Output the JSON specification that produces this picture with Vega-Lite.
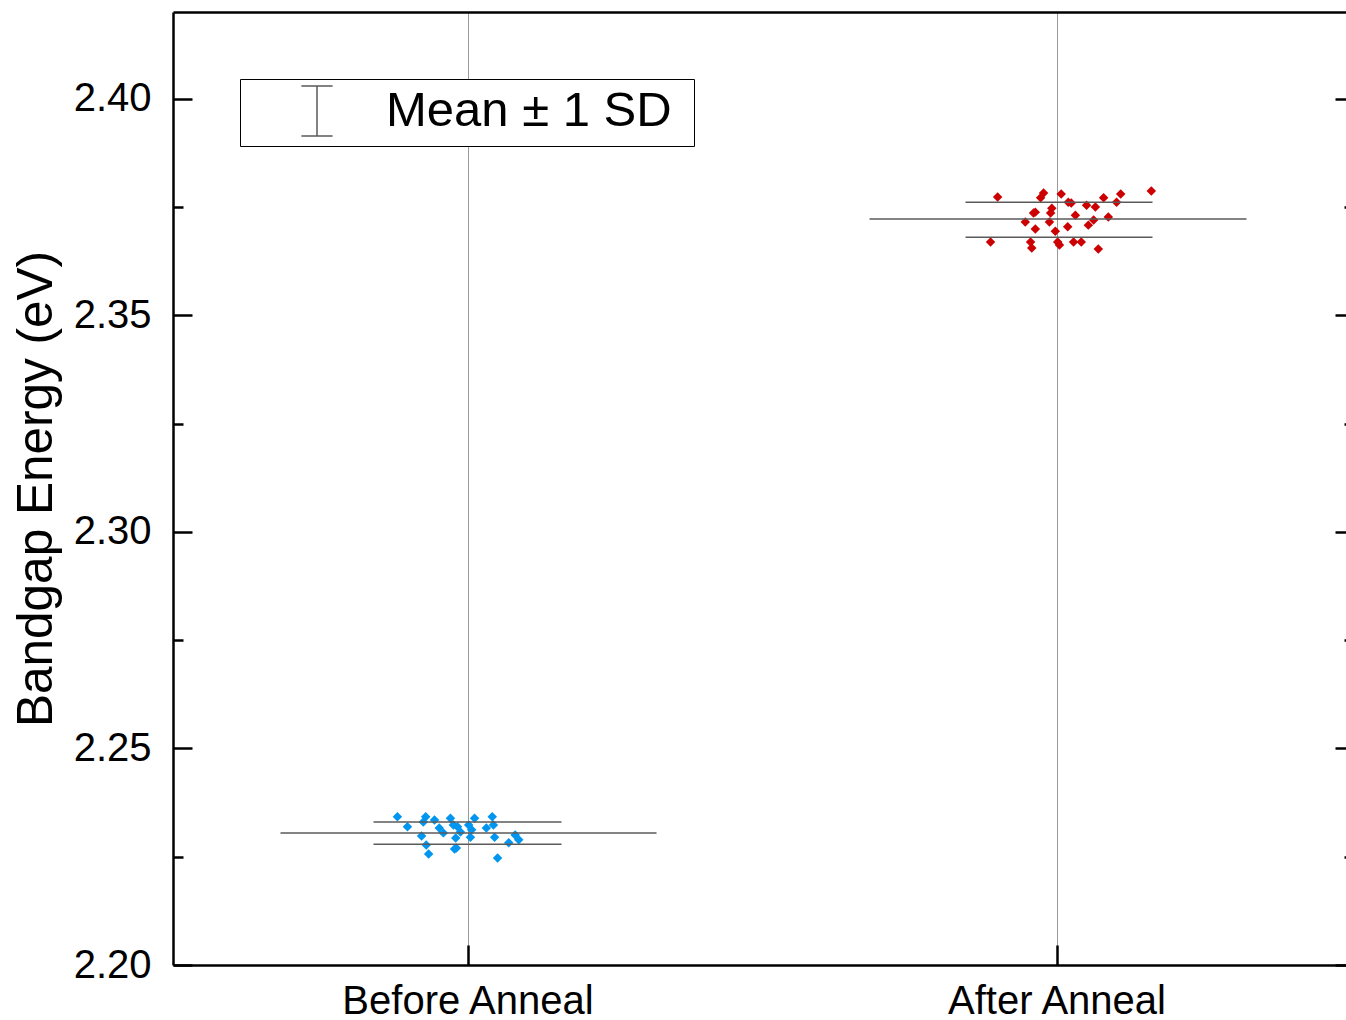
{
  "$schema": "https://vega.github.io/schema/vega-lite/v6.json",
  "autosize": {"type": "none"},
  "padding": {"left": 173, "top": 12, "right": 0, "bottom": 55},
  "width": 1173,
  "height": 953,
  "background": "white",
  "config": {"font": "Liberation Sans", "view": {"stroke": null}},
  "datasets": {
    "points": [
      {"group": "Before Anneal", "pos": 0.881, "energy": 2.2342},
      {"group": "Before Anneal", "pos": 0.898, "energy": 2.2319},
      {"group": "Before Anneal", "pos": 0.922, "energy": 2.2298},
      {"group": "Before Anneal", "pos": 0.925, "energy": 2.2330},
      {"group": "Before Anneal", "pos": 0.929, "energy": 2.2342},
      {"group": "Before Anneal", "pos": 0.930, "energy": 2.2277},
      {"group": "Before Anneal", "pos": 0.934, "energy": 2.2256},
      {"group": "Before Anneal", "pos": 0.944, "energy": 2.2335},
      {"group": "Before Anneal", "pos": 0.952, "energy": 2.2316},
      {"group": "Before Anneal", "pos": 0.959, "energy": 2.2305},
      {"group": "Before Anneal", "pos": 0.971, "energy": 2.2339},
      {"group": "Before Anneal", "pos": 0.976, "energy": 2.2323},
      {"group": "Before Anneal", "pos": 0.980, "energy": 2.2293},
      {"group": "Before Anneal", "pos": 0.981, "energy": 2.2270},
      {"group": "Before Anneal", "pos": 0.978, "energy": 2.2268},
      {"group": "Before Anneal", "pos": 0.983, "energy": 2.2319},
      {"group": "Before Anneal", "pos": 0.988, "energy": 2.2307},
      {"group": "Before Anneal", "pos": 1.002, "energy": 2.2323},
      {"group": "Before Anneal", "pos": 1.005, "energy": 2.2295},
      {"group": "Before Anneal", "pos": 1.007, "energy": 2.2312},
      {"group": "Before Anneal", "pos": 1.012, "energy": 2.2339},
      {"group": "Before Anneal", "pos": 1.032, "energy": 2.2316},
      {"group": "Before Anneal", "pos": 1.042, "energy": 2.2342},
      {"group": "Before Anneal", "pos": 1.044, "energy": 2.2323},
      {"group": "Before Anneal", "pos": 1.046, "energy": 2.2295},
      {"group": "Before Anneal", "pos": 1.051, "energy": 2.2247},
      {"group": "Before Anneal", "pos": 1.070, "energy": 2.2282},
      {"group": "Before Anneal", "pos": 1.081, "energy": 2.2300},
      {"group": "Before Anneal", "pos": 1.087, "energy": 2.2289},
      {"group": "After Anneal", "pos": 1.900, "energy": 2.3773},
      {"group": "After Anneal", "pos": 1.888, "energy": 2.3669},
      {"group": "After Anneal", "pos": 1.973, "energy": 2.3771},
      {"group": "After Anneal", "pos": 1.978, "energy": 2.3782},
      {"group": "After Anneal", "pos": 1.964, "energy": 2.3738},
      {"group": "After Anneal", "pos": 1.961, "energy": 2.3736},
      {"group": "After Anneal", "pos": 1.947, "energy": 2.3715},
      {"group": "After Anneal", "pos": 1.964, "energy": 2.3699},
      {"group": "After Anneal", "pos": 1.956, "energy": 2.3669},
      {"group": "After Anneal", "pos": 1.958, "energy": 2.3655},
      {"group": "After Anneal", "pos": 1.990, "energy": 2.3736},
      {"group": "After Anneal", "pos": 1.992, "energy": 2.3747},
      {"group": "After Anneal", "pos": 1.988, "energy": 2.3715},
      {"group": "After Anneal", "pos": 1.998, "energy": 2.3694},
      {"group": "After Anneal", "pos": 2.002, "energy": 2.3669},
      {"group": "After Anneal", "pos": 2.005, "energy": 2.3662},
      {"group": "After Anneal", "pos": 2.008, "energy": 2.3780},
      {"group": "After Anneal", "pos": 2.020, "energy": 2.3761},
      {"group": "After Anneal", "pos": 2.025, "energy": 2.3759},
      {"group": "After Anneal", "pos": 2.032, "energy": 2.3731},
      {"group": "After Anneal", "pos": 2.019, "energy": 2.3704},
      {"group": "After Anneal", "pos": 2.029, "energy": 2.3669},
      {"group": "After Anneal", "pos": 2.042, "energy": 2.3669},
      {"group": "After Anneal", "pos": 2.051, "energy": 2.3754},
      {"group": "After Anneal", "pos": 2.066, "energy": 2.3750},
      {"group": "After Anneal", "pos": 2.054, "energy": 2.3708},
      {"group": "After Anneal", "pos": 2.063, "energy": 2.3720},
      {"group": "After Anneal", "pos": 2.080, "energy": 2.3771},
      {"group": "After Anneal", "pos": 2.088, "energy": 2.3727},
      {"group": "After Anneal", "pos": 2.102, "energy": 2.3761},
      {"group": "After Anneal", "pos": 2.109, "energy": 2.3780},
      {"group": "After Anneal", "pos": 2.071, "energy": 2.3653},
      {"group": "After Anneal", "pos": 2.161, "energy": 2.3787}
    ],
    "summary": [
      {"group": "Before Anneal", "stat": "mean", "x1": 0.6825, "x2": 1.3209, "energy": 2.2305},
      {"group": "Before Anneal", "stat": "mean + 1 SD", "x1": 0.8404, "x2": 1.1596, "energy": 2.2330},
      {"group": "Before Anneal", "stat": "mean - 1 SD", "x1": 0.8404, "x2": 1.1596, "energy": 2.2279},
      {"group": "After Anneal", "stat": "mean", "x1": 1.6825, "x2": 2.3226, "energy": 2.3722},
      {"group": "After Anneal", "stat": "mean + 1 SD", "x1": 1.8455, "x2": 2.1630, "energy": 2.3761},
      {"group": "After Anneal", "stat": "mean - 1 SD", "x1": 1.8455, "x2": 2.1630, "energy": 2.3680}
    ]
  },
  "resolve": {"axis": {"x": "independent", "y": "independent"}},
  "layer": [
    {
      "data": {"name": "points"},
      "mark": {"type": "point", "shape": "diamond", "filled": true, "size": 90, "opacity": 1, "strokeWidth": 0},
      "encoding": {
        "x": {
          "field": "pos", "type": "quantitative",
          "scale": {"domain": [0.5, 2.4915], "nice": false, "zero": false},
          "axis": {
            "orient": "bottom", "title": null, "values": [1, 2],
            "labelExpr": "datum.value == 1 ? 'Before Anneal' : 'After Anneal'",
            "labelFontSize": 40, "labelColor": "black", "labelPadding": 36, "labelLimit": 0,
            "tickSize": -20, "tickWidth": 2.5, "tickColor": "black",
            "domainColor": "black", "domainWidth": 2.5,
            "grid": true, "gridColor": "#9a9a9a", "gridWidth": 1
          }
        },
        "y": {
          "field": "energy", "type": "quantitative",
          "scale": {"domain": [2.2, 2.42], "nice": false, "zero": false},
          "axis": {
            "orient": "left", "title": "Bandgap Energy (eV)",
            "titleFontSize": 49.5, "titleFontWeight": "normal", "titleColor": "black", "titlePadding": 12,
            "values": [2.2, 2.225, 2.25, 2.275, 2.3, 2.325, 2.35, 2.375, 2.4],
            "labelExpr": "round(datum.value * 1000) % 50 == 0 ? format(datum.value, '.2f') : ''",
            "labelFontSize": 40, "labelColor": "black", "labelPadding": 41,
            "tickSize": {"condition": {"test": "round(datum.value * 1000) % 50 != 0", "value": -10}, "value": -19},
            "tickWidth": 2.5, "tickColor": "black",
            "domainColor": "black", "domainWidth": 2.5, "grid": false
          }
        },
        "fill": {
          "field": "group", "type": "nominal",
          "scale": {"domain": ["Before Anneal", "After Anneal"], "range": ["#0096f0", "#cc0000"]},
          "legend": null
        }
      }
    },
    {
      "data": {"name": "summary"},
      "mark": {"type": "rule", "strokeWidth": 1.5},
      "encoding": {
        "x": {
          "field": "x1", "type": "quantitative",
          "scale": {"domain": [0.5, 2.4915], "nice": false, "zero": false},
          "axis": {"orient": "top", "title": null, "labels": false, "ticks": false, "grid": false, "domainColor": "black", "domainWidth": 2.5}
        },
        "x2": {"field": "x2"},
        "y": {
          "field": "energy", "type": "quantitative",
          "scale": {"domain": [2.2, 2.42], "nice": false, "zero": false},
          "axis": {
            "orient": "right", "title": null, "labels": false, "domain": false, "grid": false,
            "values": [2.2, 2.225, 2.25, 2.275, 2.3, 2.325, 2.35, 2.375, 2.4],
            "tickSize": {"condition": {"test": "round(datum.value * 1000) % 50 != 0", "value": -2}, "value": -11},
            "tickWidth": 2.5, "tickColor": "black"
          }
        },
        "stroke": {
          "datum": "Mean ± 1 SD", "type": "nominal",
          "scale": {"range": ["#5a5a5a"]},
          "legend": {
            "title": "\u2800", "titleOrient": "right", "titleFontSize": 1, "titlePadding": 14, "titleColor": "white",
            "orient": "none", "legendX": 67, "legendY": 67,
            "strokeColor": "black", "fillColor": "white", "padding": 7,
            "symbolType": "M-0.65,-1.04H0.65M0,-1.04V1.04M-0.65,1.04H0.65",
            "symbolSize": 2304, "symbolStrokeWidth": 1.5, "symbolStrokeColor": "#5a5a5a",
            "symbolFillColor": "transparent", "symbolOffset": 45,
            "labelOffset": 44, "labelFontSize": 49, "labelColor": "black", "labelLimit": 0
          }
        }
      }
    }
  ]
}
